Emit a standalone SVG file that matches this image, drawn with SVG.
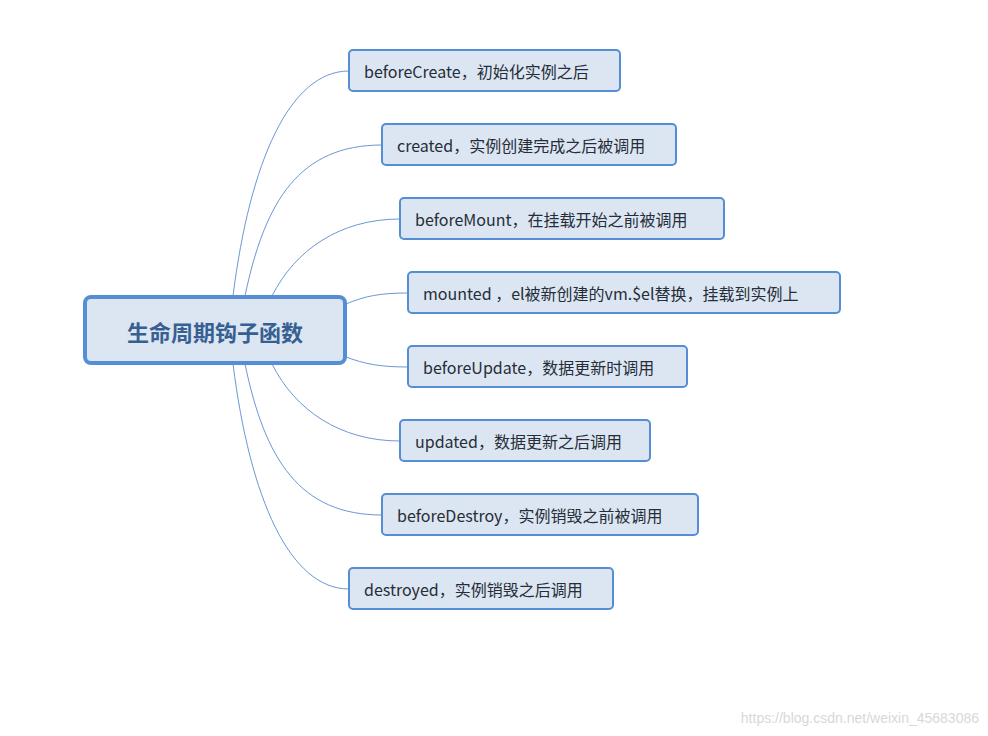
<svg xmlns="http://www.w3.org/2000/svg" width="988" height="736" viewBox="0 0 988 736">
<style>
.leaf rect{fill:#dce6f2;stroke:#558ed5;stroke-width:2}
.leaf text{font-family:"Noto Sans CJK SC","Open Sans",sans-serif;font-size:16px;fill:#262d38;dominant-baseline:central}
.c{fill:none;stroke:#6b97d6;stroke-width:1}
</style>
<rect width="988" height="736" fill="#fff"/>
<g id="connectors">
<path class="c" d="M233,296 C250,161 290,71 349,71"/>
<path class="c" d="M245,296 C265,200 300,145 382,145"/>
<path class="c" d="M272,296 C295,250 340,219 400,219"/>
<path class="c" d="M346,304 C365,296 380,293 408,293"/>
<path class="c" d="M346,357 C365,364 380,367 408,367"/>
<path class="c" d="M272,364 C295,410 340,441 400,441"/>
<path class="c" d="M245,364 C265,460 300,515 382,515"/>
<path class="c" d="M233,364 C250,499 290,589 349,589"/>
</g>
<g id="root">
<rect x="85" y="297" width="260" height="66" rx="6" fill="#dce6f2" stroke="#558ed5" stroke-width="4"/>
<text x="215" y="331" text-anchor="middle" dominant-baseline="central" font-family="Noto Sans CJK SC,sans-serif" font-size="22" font-weight="bold" fill="#376092">生命周期钩子函数</text>
</g>
<g id="n1" class="leaf"><rect x="349" y="50" width="271" height="41" rx="4"/><text x="364" y="71">beforeCreate，初始化实例之后</text></g>
<g id="n2" class="leaf"><rect x="382" y="124" width="294" height="41" rx="4"/><text x="397" y="145">created，实例创建完成之后被调用</text></g>
<g id="n3" class="leaf"><rect x="400" y="198" width="324" height="41" rx="4"/><text x="415" y="219">beforeMount，在挂载开始之前被调用</text></g>
<g id="n4" class="leaf"><rect x="408" y="272" width="432" height="41" rx="4"/><text x="423" y="293">mounted ，el被新创建的vm.$el替换，挂载到实例上</text></g>
<g id="n5" class="leaf"><rect x="408" y="346" width="279" height="41" rx="4"/><text x="423" y="367">beforeUpdate，数据更新时调用</text></g>
<g id="n6" class="leaf"><rect x="400" y="420" width="250" height="41" rx="4"/><text x="415" y="441">updated，数据更新之后调用</text></g>
<g id="n7" class="leaf"><rect x="382" y="494" width="316" height="41" rx="4"/><text x="397" y="515">beforeDestroy，实例销毁之前被调用</text></g>
<g id="n8" class="leaf"><rect x="349" y="568" width="264" height="41" rx="4"/><text x="364" y="589">destroyed，实例销毁之后调用</text></g>
<text x="979" y="718" text-anchor="end" dominant-baseline="central" font-family="Liberation Sans,sans-serif" font-size="14" fill="#d8d8d8">https://blog.csdn.net/weixin_45683086</text>
</svg>
